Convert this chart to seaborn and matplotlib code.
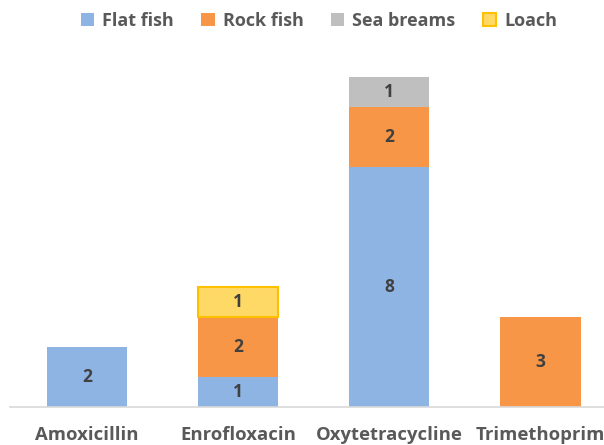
import numpy as np
import pandas as pd
import seaborn as sns
import matplotlib.pyplot as plt

categories = ["Amoxicillin", "Enrofloxacin", "Oxytetracycline", "Trimethoprim"]
series = ["Flat fish", "Rock fish", "Sea breams", "Loach"]
flat_fish = [2, 1, 8, 0]
rock_fish = [0, 2, 2, 3]
sea_breams = [0, 0, 1, 0]
loach = [0, 1, 0, 0]

colors = {"Flat fish": "#8EB4E3", "Rock fish": "#F79646",
          "Sea breams": "#BFBFBF", "Loach": "#FFD966"}
edges = {"Flat fish": "none", "Rock fish": "none",
         "Sea breams": "none", "Loach": "#FFC000"}

sns.set_theme(style="white")
plt.rcParams["font.family"] = ["Open Sans", "DejaVu Sans"]

df = pd.DataFrame({"category": categories, "Flat fish": flat_fish,
                   "Rock fish": rock_fish, "Sea breams": sea_breams,
                   "Loach": loach})

fig = plt.figure(figsize=(6.04, 4.45), dpi=100)
ax = fig.add_axes([10 / 604, 38 / 445, 594 / 604, 360 / 445])

bottom = np.zeros(len(categories))
for s in series:
    vals = df[s].to_numpy()
    mask = vals > 0
    sub = pd.DataFrame({"category": df["category"][mask], "v": vals[mask],
                        "b": bottom[mask]})
    sns.barplot(data=sub, x="category", y="v", order=categories,
                bottom=sub["b"].to_numpy(), color=colors[s], saturation=1,
                width=0.53, edgecolor=edges[s],
                linewidth=1.5 if s == "Loach" else 0, label=s, ax=ax)
    for i, (v, b) in enumerate(zip(vals, bottom)):
        if v > 0:
            ax.text(i, b + v / 2, str(v), ha="center", va="center",
                    fontsize=12.5, fontweight="bold", color="#404040")
    bottom = bottom + vals

handles, labels = ax.get_legend_handles_labels()
if ax.get_legend() is not None:
    ax.get_legend().remove()

ax.set_xlim(-0.51, 3.42)
ax.set_ylim(0, 12)
ax.set_xlabel("")
ax.set_ylabel("")
ax.set_yticks([])
for side in ["top", "right", "left"]:
    ax.spines[side].set_visible(False)
ax.spines["bottom"].set_color("#D9D9D9")
ax.spines["bottom"].set_linewidth(1.2)
ax.tick_params(axis="x", length=0, pad=14, labelsize=13.3,
               labelcolor="#595959")
for t in ax.get_xticklabels():
    t.set_fontweight("bold")

leg = fig.legend(handles, labels, loc="center", bbox_to_anchor=(319 / 604, 1 - 21 / 445),
                 ncol=4, frameon=False, handlelength=0.75, handleheight=0.75,
                 handletextpad=0.45, columnspacing=1.5,
                 prop={"size": 13, "weight": "bold"})
for t in leg.get_texts():
    t.set_color("#595959")

fig.savefig("out.png", dpi=100)
